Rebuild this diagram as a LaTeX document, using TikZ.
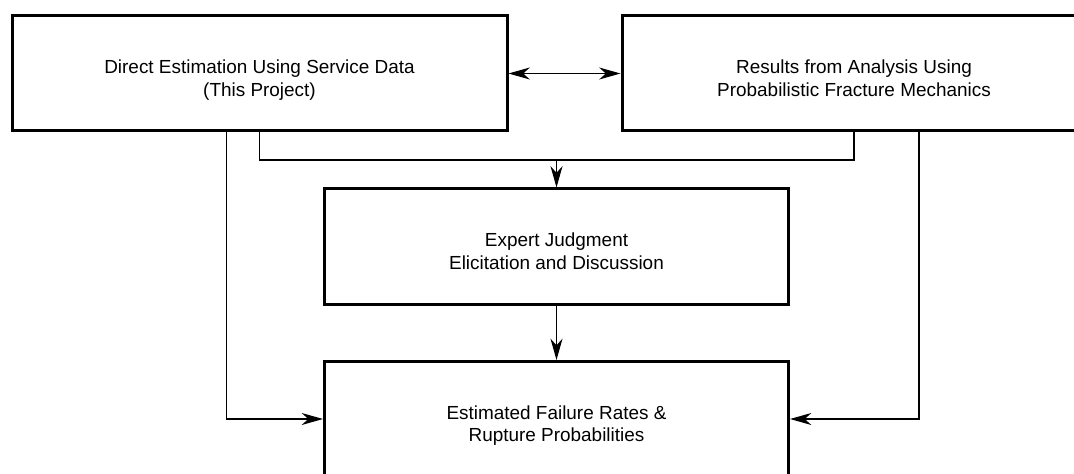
\documentclass[tikz,border=0pt]{standalone}
\usepackage{fontspec}
\setmainfont{Liberation Sans}
\usetikzlibrary{arrows.meta}
\tikzset{
    block/.style={
        draw, line width=2.25pt,
        align=center, inner sep=0pt,
        minimum height=86.25pt,
        text height=37pt, text depth=3pt,
        font=\fontsize{14.2pt}{16.9pt}\selectfont
    },
    link/.style={line width=0.9pt},
    arrow/.style={link, -{Stealth[length=16pt,width=9pt,inset=5pt]}},
    twoway/.style={link, {Stealth[length=16pt,width=9pt,inset=5pt]}-{Stealth[length=16pt,width=9pt,inset=5pt]}}
}

\begin{document}
\begin{tikzpicture}[x=0.75pt, y=-0.75pt]
        \clip (0,0) rectangle (1074,474);
        % Blocchi
        \node[block, minimum width=371.25pt] (service) at (259.5,73.5) {Direct Estimation Using Service Data\\(This Project)};
        \node[block, minimum width=348pt] (fracture) at (854,73.5) {Results from Analysis Using\\Probabilistic Fracture Mechanics};
        \node[block, minimum width=348pt] (expert) at (556.5,246.5) {Expert Judgment\\Elicitation and Discussion};
        \node[block, minimum width=348pt] (rates) at (556.5,419) {Estimated Failure Rates \&\\Rupture Probabilities};
        % Collegamenti
        \coordinate (merge) at (556.5,160);
        \draw[twoway] (service) -- (fracture);
        \draw[link] (service.south) |- (merge) -| (fracture.south);
        \draw[arrow] (merge) -- (expert);
        \draw[arrow] (expert) -- (rates);
        \draw[arrow] ([xshift=-25pt]service.south) |- (rates.west);
        \draw[arrow] ([xshift=48.75pt]fracture.south) |- (rates.east);
    \end{tikzpicture}
\end{document}
